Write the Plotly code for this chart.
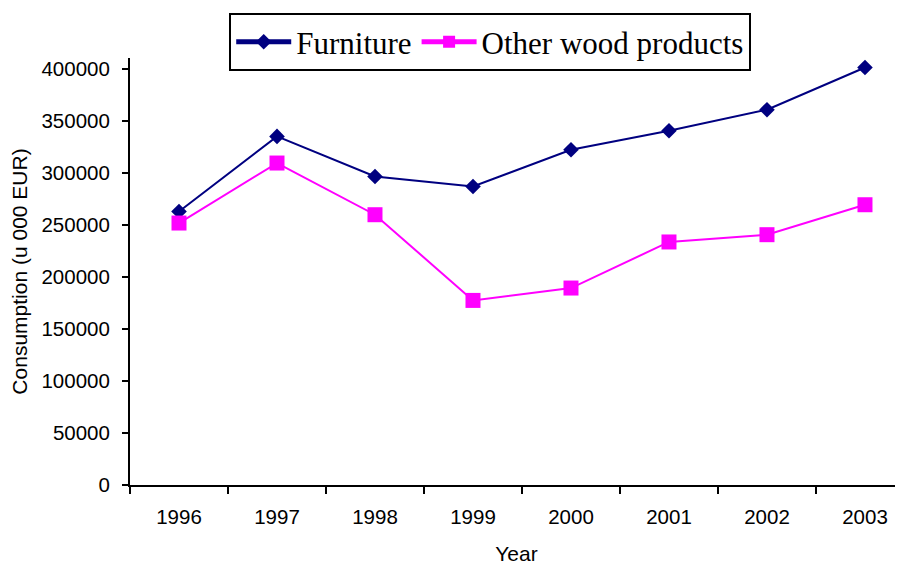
import plotly.graph_objects as go

years = ["1996", "1997", "1998", "1999", "2000", "2001", "2002", "2003"]
furniture = [263000, 335200, 296700, 287100, 322400, 340700, 360900, 401500]
other_wood = [251900, 309600, 259900, 177500, 189400, 233700, 240700, 269500]
y_ticks = [0, 50000, 100000, 150000, 200000, 250000, 300000, 350000, 400000]

fig = go.Figure()
fig.add_trace(go.Scatter(
    x=years, y=furniture, name="Furniture", mode="lines+markers",
    line=dict(color="#000080", width=2),
    marker=dict(symbol="diamond", size=12, color="#000080"),
))
fig.add_trace(go.Scatter(
    x=years, y=other_wood, name="Other wood products", mode="lines+markers",
    line=dict(color="#FF00FF", width=2),
    marker=dict(symbol="square", size=15, color="#FF00FF"),
))

fig.update_layout(
    width=895, height=557,
    margin=dict(l=122, r=0, t=50, b=80),
    paper_bgcolor="white", plot_bgcolor="white",
    font=dict(family="Liberation Sans, Arial, sans-serif", color="black"),
    legend=dict(
        orientation="h", x=0.466, xanchor="center", y=1.105, yanchor="top",
        bordercolor="black", borderwidth=2, bgcolor="white",
        font=dict(family="Liberation Serif, Times New Roman, serif", size=31),
        itemsizing="constant", itemwidth=55,
    ),
    xaxis=dict(
        type="category", range=[-0.5, 7.388],
        tickson="boundaries", ticks="outside", ticklen=7, tickwidth=2,
        tickcolor="black",
        showline=True, linecolor="black", linewidth=2,
        showgrid=False, zeroline=False, automargin=False,
        tickfont=dict(size=20.5),
        ticklabelstandoff=12,
        title=dict(text="Year", font=dict(size=21), standoff=22),
    ),
    yaxis=dict(
        range=[0, 410600], tickvals=y_ticks,
        ticktext=[str(v) for v in y_ticks],
        ticks="outside", ticklen=6, tickwidth=2, tickcolor="black",
        showline=True, linecolor="black", linewidth=2,
        showgrid=False, zeroline=False, automargin=False,
        tickfont=dict(size=20.5),
        ticklabelstandoff=8,
        title=dict(text="Consumption (u 000 EUR)", font=dict(size=21), standoff=8),
    ),
)

fig.write_html("out.html")
